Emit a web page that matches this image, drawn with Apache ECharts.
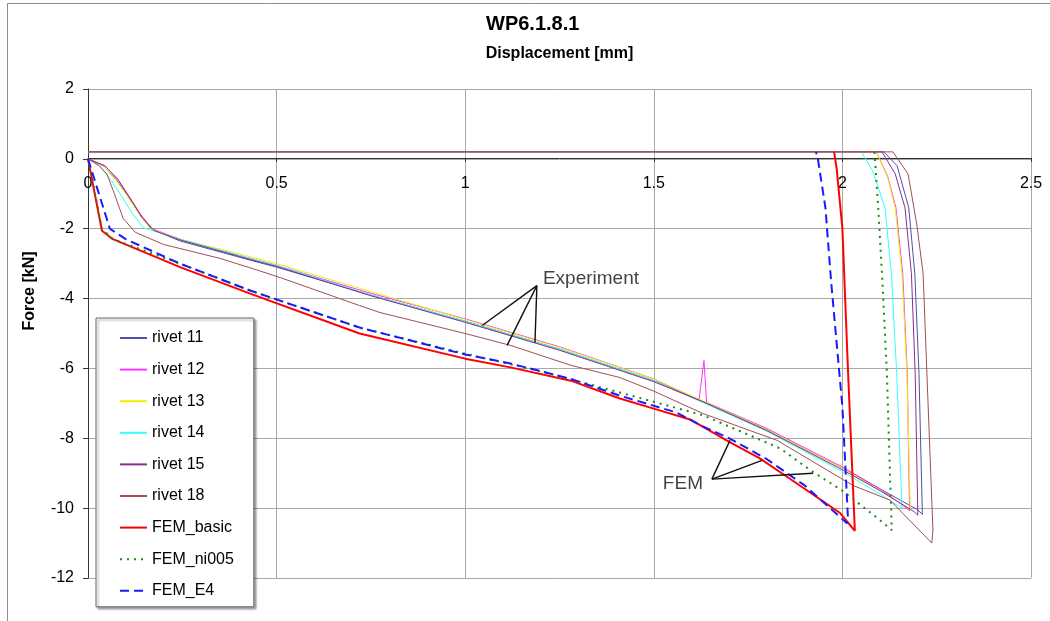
<!DOCTYPE html>
<html>
<head>
<meta charset="utf-8">
<script src="https://cdn.jsdelivr.net/npm/echarts@6/dist/echarts.min.js"></script>
<style>html,body{margin:0;padding:0;background:#fff;}#c{width:1050px;height:621px;}</style>
</head>
<body>
<div id="c"></div>
<script>
const FONT = 'Liberation Sans, Arial, sans-serif';
const xTicks = [0, 0.5, 1, 1.5, 2, 2.5];
const yTicks = [-12, -10, -8, -6, -4, -2, 0, 2];
const seriesNames = ['rivet 11', 'rivet 12', 'rivet 13', 'rivet 14', 'rivet 15', 'rivet 18', 'FEM_basic', 'FEM_ni005', 'FEM_E4'];

const rivet11 = [[0,0],[0.04,-0.2],[0.075,-0.6],[0.105,-1.05],[0.14,-1.65],[0.17,-2.02],[0.244,-2.35],[0.43,-2.9],[0.5,-3.1],[0.75,-3.9],[1.0,-4.65],[1.25,-5.45],[1.5,-6.35],[1.63,-6.95],[1.8,-7.75],[2.0,-8.85],[2.1,-9.45],[2.2,-10.05],[2.212,-10.18],[2.203,-6.14],[2.192,-3.29],[2.176,-1.4],[2.145,-0.2],[2.11,0.2],[0,0.2]];
const rivet12 = [[0,0],[0.045,-0.2],[0.08,-0.6],[0.11,-1.1],[0.14,-1.6],[0.17,-2.0],[0.244,-2.3],[0.43,-2.85],[0.5,-3.05],[0.75,-3.85],[1.0,-4.58],[1.25,-5.38],[1.5,-6.3],[1.62,-6.9],[1.633,-5.77],[1.64,-6.97],[1.8,-7.72],[2.0,-8.82],[2.1,-9.45],[2.17,-10.0],[2.178,-10.08],[2.172,-6.14],[2.16,-3.29],[2.142,-1.4],[2.12,-0.5],[2.09,0.2],[0,0.2]];
const rivet13 = [[0,0],[0.04,-0.2],[0.07,-0.55],[0.1,-1.0],[0.14,-1.65],[0.165,-2.0],[0.244,-2.3],[0.43,-2.8],[0.5,-3.0],[0.75,-3.8],[1.0,-4.6],[1.25,-5.4],[1.5,-6.3],[1.8,-7.75],[2.0,-8.85],[2.1,-9.5],[2.175,-10.0],[2.18,-10.06],[2.171,-6.14],[2.158,-3.29],[2.14,-1.4],[2.12,-0.54],[2.09,0.2],[0,0.2]];
const rivet14 = [[0,0],[0.03,-0.2],[0.06,-0.6],[0.085,-1.0],[0.12,-1.6],[0.146,-1.97],[0.244,-2.3],[0.43,-2.85],[0.5,-3.05],[0.75,-3.9],[1.0,-4.65],[1.25,-5.45],[1.5,-6.35],[1.8,-7.8],[2.0,-8.95],[2.1,-9.6],[2.158,-10.0],[2.144,-6.14],[2.13,-3.29],[2.113,-1.4],[2.08,-0.34],[2.05,0.2],[0,0.2]];
const rivet15 = [[0,0],[0.045,-0.2],[0.08,-0.6],[0.11,-1.1],[0.145,-1.7],[0.175,-2.05],[0.244,-2.32],[0.43,-2.88],[0.5,-3.08],[0.75,-3.92],[1.0,-4.68],[1.25,-5.48],[1.5,-6.38],[1.63,-6.95],[1.8,-7.78],[2.0,-8.9],[2.1,-9.5],[2.19,-10.1],[2.2,-10.2],[2.193,-6.14],[2.183,-3.29],[2.166,-1.4],[2.14,-0.43],[2.105,0.2],[0,0.2]];
const rivet18 = [[0,0],[0.03,-0.2],[0.05,-0.43],[0.07,-1.0],[0.093,-1.7],[0.125,-2.1],[0.2,-2.45],[0.35,-2.85],[0.43,-3.12],[0.51,-3.4],[0.72,-4.2],[0.774,-4.4],[1.0,-5.0],[1.12,-5.34],[1.28,-5.91],[1.41,-6.26],[1.5,-6.65],[1.63,-7.29],[1.827,-8.06],[2.028,-9.35],[2.126,-9.77],[2.237,-11.0],[2.24,-10.63],[2.224,-6.14],[2.214,-3.29],[2.197,-1.86],[2.174,-0.43],[2.134,0.2],[0,0.2]];
const femBasic = [[0,0],[0.037,-2.06],[0.066,-2.3],[0.244,-3.1],[0.43,-3.86],[0.72,-5.0],[1.0,-5.72],[1.12,-5.97],[1.28,-6.35],[1.41,-6.86],[1.5,-7.15],[1.596,-7.46],[1.7,-8.1],[1.78,-8.57],[1.853,-9.1],[1.994,-10.14],[2.033,-10.65],[2.015,-6.1],[2.0,-2.0],[1.985,-0.3],[1.978,0.2]];
const femNi005 = [[0,0],[0.037,-2.0],[0.066,-2.3],[0.244,-3.0],[0.43,-3.77],[0.72,-4.83],[1.0,-5.58],[1.2,-6.08],[1.41,-6.69],[1.63,-7.34],[1.835,-8.29],[1.92,-8.95],[2.0,-9.5],[2.09,-10.26],[2.131,-10.63],[2.126,-9.0],[2.118,-6.14],[2.105,-3.29],[2.095,-1.4],[2.087,-0.1],[2.085,0.2]];
const femE4 = [[0,0],[0.058,-2.0],[0.1,-2.3],[0.244,-3.0],[0.43,-3.77],[0.72,-4.83],[1.0,-5.6],[1.12,-5.86],[1.28,-6.3],[1.41,-6.78],[1.56,-7.26],[1.63,-7.66],[1.7,-8.0],[1.8,-8.6],[1.9,-9.35],[2.012,-10.43],[2.015,-10.34],[2.0,-7.1],[1.97,-3.5],[1.955,-1.4],[1.935,0],[1.93,0.2]];

const annotationLines = [
  [[1.190,-3.63],[1.045,-4.77]],
  [[1.190,-3.63],[1.111,-5.34]],
  [[1.190,-3.63],[1.185,-5.26]],
  [[1.654,-9.17],[1.702,-8.06]],
  [[1.654,-9.17],[1.787,-8.63]],
  [[1.654,-9.17],[1.922,-9.0]]
];
const annotationTexts = [
  {name: 'Experiment', value: [1.206, -3.43]},
  {name: 'FEM', value: [1.524, -9.31]}
];

const seriesData = [rivet11, rivet12, rivet13, rivet14, rivet15, rivet18, femBasic, femNi005, femE4];
const seriesColors = ['#5050a8', '#ff33ff', '#f0f000', '#33ffff', '#8a2f8a', '#a05050', '#ff0000', '#1a8a1a', '#1a1aff'];
const seriesWidths = [1, 1, 1, 1, 1, 1, 2, 2, 2];
const seriesTypes = ['solid', 'solid', 'solid', 'solid', 'solid', 'solid', 'solid', [2, 5], [9, 5]];

const chart = echarts.init(document.getElementById('c'));

const series = seriesNames.map((n, i) => ({
  name: n,
  type: 'line',
  data: seriesData[i],
  showSymbol: false,
  symbol: 'none',
  animation: false,
  z: 2 + i,
  lineStyle: {color: seriesColors[i], width: seriesWidths[i], type: seriesTypes[i]},
  itemStyle: {color: seriesColors[i]}
}));

series.push({
  type: 'lines',
  coordinateSystem: 'cartesian2d',
  silent: true,
  z: 20,
  animation: false,
  lineStyle: {color: '#111', width: 1.4, opacity: 1},
  data: annotationLines.map(c => ({coords: c}))
});
series.push({
  type: 'scatter',
  symbolSize: 0,
  silent: true,
  z: 21,
  animation: false,
  data: annotationTexts,
  label: {
    show: true, position: 'right', distance: 0, formatter: p => p.name,
    fontSize: 19, fontFamily: FONT, color: '#111'
  }
});

chart.setOption({
  animation: false,
  backgroundColor: '#fff',
  title: {
    text: 'WP6.1.8.1',
    left: 486, top: 14, padding: 0,
    textStyle: {fontSize: 20, fontWeight: 'bold', fontFamily: FONT, color: '#000'}
  },
  graphic: [{
    type: 'rect', z: -10, silent: true,
    shape: {x: 7.5, y: 3.5, width: 1100, height: 700},
    style: {fill: 'none', stroke: '#8c8c8c', lineWidth: 1}
  }],
  legend: {
    data: seriesNames,
    orient: 'vertical',
    left: 96, top: 318,
    itemWidth: 27, itemHeight: 14, itemGap: 15.6,
    padding: [12, 20, 8, 23],
    backgroundColor: '#fff',
    borderColor: '#666', borderWidth: 1,
    shadowColor: 'rgba(0,0,0,0.35)', shadowBlur: 2, shadowOffsetX: 2, shadowOffsetY: 2,
    itemStyle: {color: 'transparent', borderColor: 'transparent', borderWidth: 0, opacity: 0},
    textStyle: {fontSize: 16, fontFamily: FONT, color: '#000'}
  },
  grid: {left: 88, right: 19, top: 89, bottom: 43, containLabel: false},
  xAxis: {
    type: 'value', min: 0, max: 2.5, interval: 0.5,
    position: 'top', offset: -69,
    name: 'Displacement [mm]', nameLocation: 'middle', nameGap: 96,
    nameTextStyle: {fontSize: 16, fontWeight: 'bold', fontFamily: FONT, color: '#000'},
    axisLine: {show: true, onZero: false, lineStyle: {color: '#333', width: 1}},
    axisTick: {show: true, inside: true, length: 4, lineStyle: {color: '#333'}},
    axisLabel: {inside: true, margin: 18, fontSize: 16, fontFamily: FONT, color: '#000',
      formatter: v => String(v)},
    splitLine: {show: true, lineStyle: {color: '#a8a8a8', width: 1}}
  },
  yAxis: {
    type: 'value', min: -12, max: 2, interval: 2,
    name: 'Force [kN]', nameLocation: 'middle', nameGap: 50, nameRotate: 90,
    nameTextStyle: {fontSize: 16, fontWeight: 'bold', fontFamily: FONT, color: '#000', padding: [0, 0, 0, 85]},
    axisLine: {show: true, onZero: false, lineStyle: {color: '#333', width: 1}},
    axisTick: {show: true, length: 5, lineStyle: {color: '#333'}},
    axisLabel: {margin: 14, fontSize: 16, fontFamily: FONT, color: '#000'},
    splitLine: {show: true, lineStyle: {color: '#a8a8a8', width: 1}}
  },
  series: series
});
</script>
</body>
</html>
